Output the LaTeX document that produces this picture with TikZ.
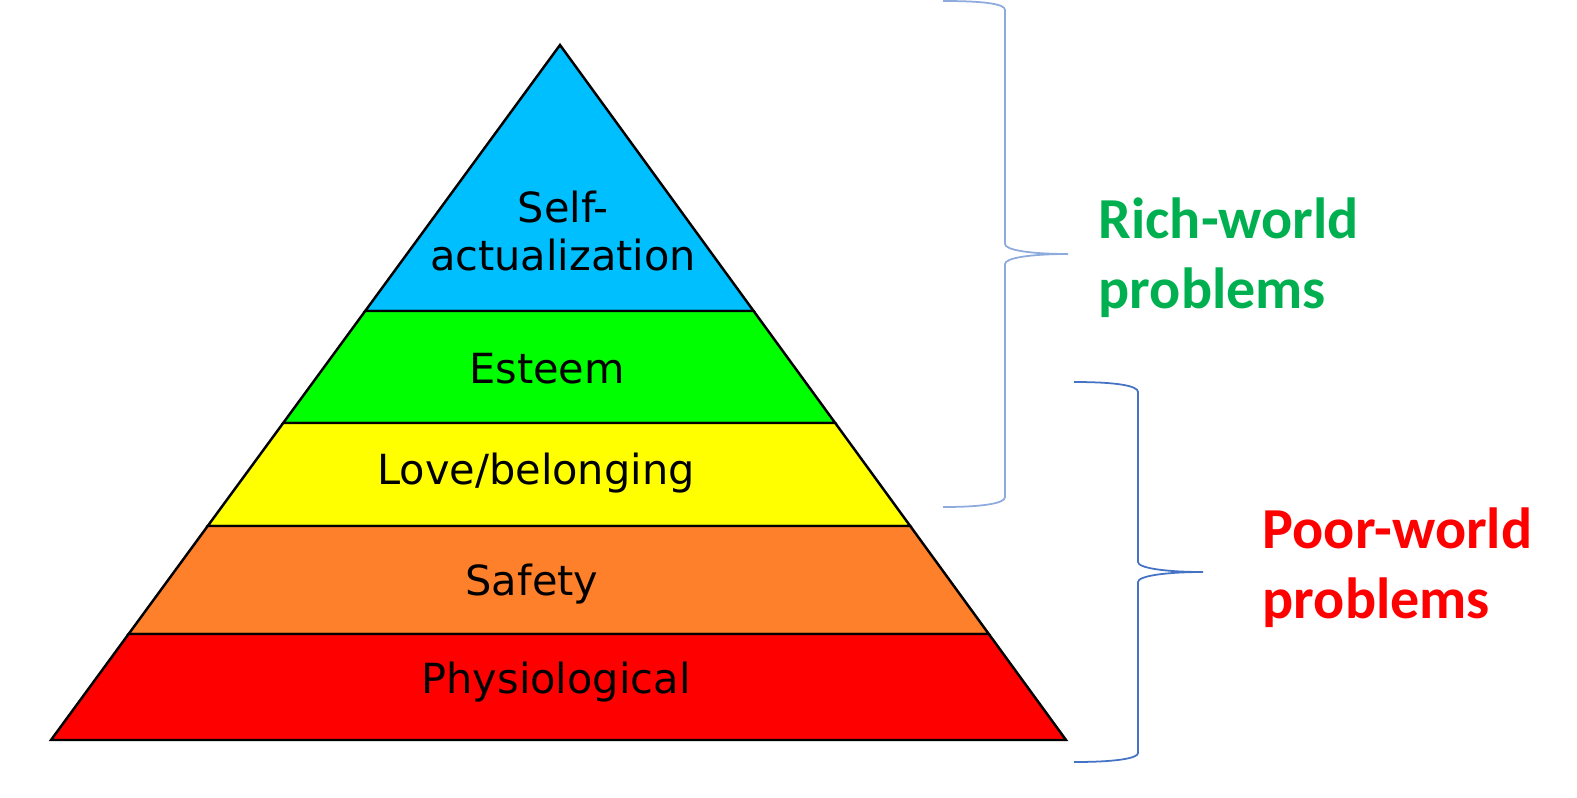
\documentclass[tikz,border=0pt]{standalone}
\usepackage{fontspec}
\usepackage{tikz}
\newfontfamily\layerfont{DejaVu Sans}
\newfontfamily\notefont{Carlito}
\definecolor{skyblue}{HTML}{00BFFF}
\definecolor{limegreen}{HTML}{00FF00}
\definecolor{pureyellow}{HTML}{FFFF00}
\definecolor{warmorange}{HTML}{FF802A}
\definecolor{purered}{HTML}{FF0000}
\definecolor{richgreen}{HTML}{00B050}
\definecolor{lightbrace}{HTML}{8FAADC}
\definecolor{darkbrace}{HTML}{4472C4}
\tikzset{
  layer/.style={
    draw=black,
    line width=0.7pt,
    line join=miter,
    fill=#1
  },
  layer text/.style={
    anchor=base,
    inner sep=0pt,
    font=\layerfont\fontsize{11.8}{13.4}\selectfont
  },
  brace line/.style={
    draw=#1,
    line width=0.5pt
  },
  note text/.style={
    anchor=base west,
    inner sep=0pt,
    align=left,
    text=#1,
    font=\notefont\bfseries\fontsize{16.5}{19.9}\selectfont
  }
}

\begin{document}
\begin{tikzpicture}[x=0.01cm, y=-0.01cm]
    \useasboundingbox (0,0) rectangle (1577,797);

    % pyramid layers, top to bottom
    \path[layer=skyblue]    (560,45)    -- (753.6,311) -- (365.2,311) -- cycle;
    \path[layer=limegreen]  (365.2,311) -- (753.6,311) -- (835.2,423) -- (283.2,423) -- cycle;
    \path[layer=pureyellow] (283.2,423) -- (835.2,423) -- (910.2,526) -- (207.7,526) -- cycle;
    \path[layer=warmorange] (207.7,526) -- (910.2,526) -- (988.8,634) -- (128.6,634) -- cycle;
    \path[layer=purered]    (128.6,634) -- (988.8,634) -- (1066,740) -- (51,740)    -- cycle;

    \node[layer text, align=center] (selfact) at (563,270) {Self-\\actualization};
    \node[layer text] (esteem)  at (547,383) {Esteem};
    \node[layer text] (love)    at (536,484) {Love/belonging};
    \node[layer text] (safety)  at (532,595) {Safety};
    \node[layer text] (physio)  at (556,693) {Physiological};

    % braces
    \path[brace line=lightbrace]
        (943,1) .. controls (985,1) and (1005,4) .. (1005,10)
        -- (1005,244) .. controls (1005,250) and (1030,254) .. (1068,254)
        .. controls (1030,254) and (1005,258) .. (1005,264)
        -- (1005,497) .. controls (1005,503) and (985,507) .. (943,507);
    \path[brace line=darkbrace]
        (1074,382) .. controls (1118,382) and (1138,386) .. (1138,392)
        -- (1138,562) .. controls (1138,568) and (1165,572) .. (1203,572)
        .. controls (1165,572) and (1138,576) .. (1138,582)
        -- (1138,753) .. controls (1138,758) and (1118,762) .. (1074,762);

    \node[note text=richgreen] (rich) at (1098,308) {Rich-world\\problems};
    \node[note text=purered]   (poor) at (1262,618) {Poor-world\\problems};
\end{tikzpicture}
\end{document}
